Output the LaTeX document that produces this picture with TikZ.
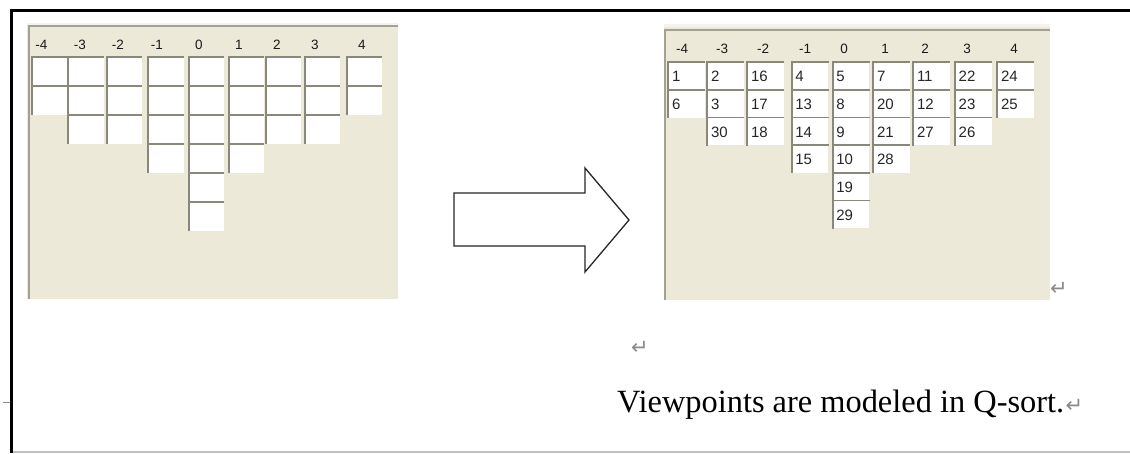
\documentclass[tikz,border=0pt]{standalone}
\usepackage{fontspec}
\setmainfont{Liberation Serif}
\newfontfamily\uifont{Liberation Sans}
\newfontfamily\symfont{DejaVu Sans}
\definecolor{panelbg}{HTML}{ECE9D8}
\definecolor{paneltop}{HTML}{F5F3EC}
\definecolor{paneledge}{HTML}{A3A094}
\definecolor{celledge}{HTML}{8A877B}
\definecolor{markgray}{HTML}{8A8A8A}
\tikzset{
  panel/.style={fill=panelbg, draw=none, inner sep=0pt, anchor=north west},
  edgeline/.style={draw=paneledge, line width=2pt},
  cellbox/.style={fill=white, draw=none, inner sep=0pt, anchor=north west},
  celledgeline/.style={draw=celledge, line width=1.8pt},
  header/.style={font=\uifont\fontsize{13.5}{13.5}\selectfont, text=black!90, inner sep=0pt},
  num/.style={font=\uifont\fontsize{15}{15}\selectfont, text=black!85, inner sep=0pt, anchor=west},
  retmark/.style={font=\symfont\fontsize{21}{21}\selectfont, text=markgray, inner sep=0pt},
  bigarrow/.style={draw=black!85, line width=1.3pt, fill=white, line join=miter},
}
\begin{document}
\begin{tikzpicture}[x=1pt,y=-1pt]
\useasboundingbox (0,0) rectangle (1130,453);

% page frame
\draw[black, line width=3pt] (11.5,453) -- (11.5,10.5) -- (1130,10.5);
\draw[black!25, line width=1.2pt] (13,452) -- (1130,452);
\draw[black!45, line width=1pt] (3,402) -- (10,402);

% ---------- empty sorting grid ----------
\node[panel, minimum width=371pt, minimum height=276pt] (lpanel) at (27,23) {};
\fill[paneltop] (lpanel.north west) rectangle ([yshift=-2pt]lpanel.north east);
\draw[edgeline] ([xshift=1.5pt]lpanel.south west) -- ([xshift=1.5pt,yshift=-3pt]lpanel.north west) -- ([yshift=-3pt]lpanel.north east);

\foreach \hx/\lab [count=\c] in {41.5/-4,80/-3,118/-2,157/-1,199/0,239/1,277/2,315/3,362/4}
  \node[header] (lh-\c) at (\hx,45) {\lab};

\foreach \cx/\k [count=\c] in {32.3/2,68.3/3,106.7/3,148.3/4,189/6,229/4,265.7/3,305/3,346.7/2}{
  \foreach \r in {1,...,\k}{
    \node[cellbox, minimum width=35pt, minimum height=29pt] (lc-\c-\r) at (\cx,{57+29*(\r-1)}) {};
    \draw[celledgeline] (lc-\c-\r.south west) -- (lc-\c-\r.north west) -- (lc-\c-\r.north east);
  }
}

% ---------- arrow ----------
\draw[bigarrow] (454,193) -- (585,193) -- (585,168) -- (629,220) -- (585,272) -- (585,246) -- (454,246) -- cycle;

% ---------- filled sorting grid ----------
\node[panel, minimum width=386pt, minimum height=276pt] (rpanel) at (664,24) {};
\fill[paneltop] (rpanel.north west) rectangle ([yshift=-3pt]rpanel.north east);
\draw[edgeline] ([xshift=1pt]rpanel.south west) -- ([xshift=1pt,yshift=-5.5pt]rpanel.north west) -- ([yshift=-5.5pt]rpanel.north east);

\foreach \hx/\lab [count=\c] in {682/-4,722/-3,763/-2,805/-1,844/0,885/1,925/2,967/3,1014/4}
  \node[header] (rh-\c) at (\hx,49) {\lab};

\foreach \cx/\nums [count=\c] in {668.3/{1,6},707.3/{2,3,30},747.3/{16,17,18},791.7/{4,13,14,15},832.7/{5,8,9,10,19,29},873.3/{7,20,21,28},913.3/{11,12,27},955/{22,23,26},997.3/{24,25}}{
  \foreach \n [count=\r] in \nums {
    \node[cellbox, minimum width=36.5pt, minimum height=27.7pt] (rc-\c-\r) at (\cx,{62+27.7*(\r-1)}) {};
    \draw[celledgeline] (rc-\c-\r.south west) -- (rc-\c-\r.north west) -- (rc-\c-\r.north east);
    \node[num] (rn-\c-\r) at ([xshift=3.5pt,yshift=-0.5pt]rc-\c-\r.west) {\n};
  }
}

% ---------- paragraph marks and caption ----------
\node[retmark] (ret1) at (1059,289) {↵};
\node[retmark] (ret2) at (640,348) {↵};
\node[anchor=base west, inner sep=0pt, font=\fontsize{32.4}{38}\selectfont] (caption) at (617,412) {Viewpoints are modeled in Q-sort.};
\node[retmark, anchor=base west] (ret3) at ([xshift=1pt]caption.base east) {↵};
\end{tikzpicture}
\end{document}
